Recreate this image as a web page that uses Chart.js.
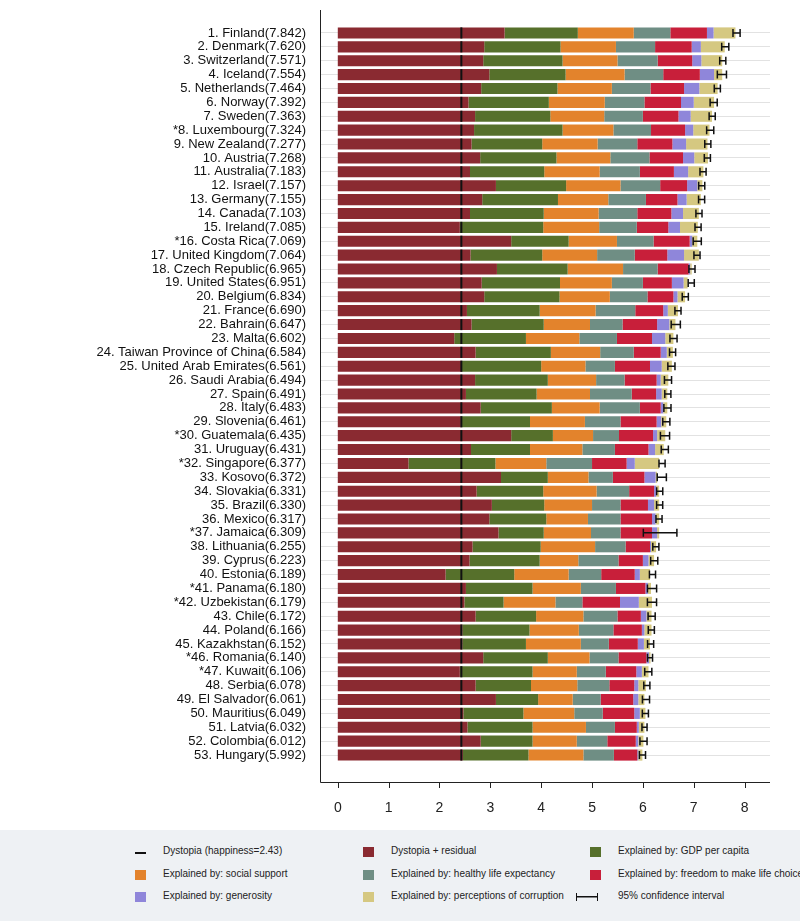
<!doctype html>
<html>
<head>
	<title>World happiness ranking</title>
	<script src="https://cdn.jsdelivr.net/npm/chart.js@4"></script>
	<style>
		body { margin: 0; background: #fff; font-family: "Liberation Sans", Arial, sans-serif; }
		#holder { position: absolute; left: 0; top: 0; width: 800px; height: 830px; }
		#legend { position: absolute; left: 0; top: 830px; width: 800px; height: 91px; background: #eef1f4; overflow: hidden; }
		.item { position: absolute; font-size: 10px; color: #222; white-space: nowrap; }
		.sw { position: absolute; width: 11px; height: 10px; }
	</style>
</head>
<body>
	<div id="holder"><canvas id="chart-area" width="800" height="830"></canvas></div>
	<div id="legend"></div>
	<script>
		var countries = ['Finland', 'Denmark', 'Switzerland', 'Iceland', 'Netherlands', 'Norway', 'Sweden', '*Luxembourg', 'New Zealand', 'Austria',
			'Australia', 'Israel', 'Germany', 'Canada', 'Ireland', '*Costa Rica', 'United Kingdom', 'Czech Republic', 'United States', 'Belgium',
			'France', 'Bahrain', 'Malta', 'Taiwan Province of China', 'United Arab Emirates', 'Saudi Arabia', 'Spain', 'Italy', 'Slovenia', '*Guatemala',
			'Uruguay', '*Singapore', 'Kosovo', 'Slovakia', 'Brazil', 'Mexico', '*Jamaica', 'Lithuania', 'Cyprus', 'Estonia',
			'*Panama', '*Uzbekistan', 'Chile', 'Poland', 'Kazakhstan', '*Romania', '*Kuwait', 'Serbia', 'El Salvador', 'Mauritius',
			'Latvia', 'Colombia', 'Hungary'];
		var scores = [7.842, 7.620, 7.571, 7.554, 7.464, 7.392, 7.363, 7.324, 7.277, 7.268,
			7.183, 7.157, 7.155, 7.103, 7.085, 7.069, 7.064, 6.965, 6.951, 6.834,
			6.690, 6.647, 6.602, 6.584, 6.561, 6.494, 6.491, 6.483, 6.461, 6.435,
			6.431, 6.377, 6.372, 6.331, 6.330, 6.317, 6.309, 6.255, 6.223, 6.189,
			6.180, 6.179, 6.172, 6.166, 6.152, 6.140, 6.106, 6.078, 6.061, 6.049,
			6.032, 6.012, 5.992];
		var residual = [3.28, 2.88, 2.86, 2.98, 2.82, 2.57, 2.70, 2.68, 2.63, 2.80,
			2.60, 3.11, 2.84, 2.60, 2.40, 3.41, 2.61, 3.13, 2.83, 2.88,
			2.54, 2.63, 2.29, 2.71, 2.44, 2.70, 2.52, 2.81, 2.42, 3.41,
			2.62, 1.39, 3.21, 2.73, 3.03, 2.98, 3.16, 2.65, 2.59, 2.12,
			2.52, 2.49, 2.71, 2.45, 2.45, 2.86, 2.40, 2.71, 3.11, 2.47,
			2.55, 2.81, 2.46];
		var gdp = [1.44, 1.50, 1.56, 1.50, 1.50, 1.58, 1.48, 1.74, 1.39, 1.50,
			1.46, 1.38, 1.49, 1.45, 1.64, 1.13, 1.41, 1.39, 1.54, 1.48,
			1.43, 1.42, 1.41, 1.48, 1.56, 1.43, 1.39, 1.40, 1.36, 0.82,
			1.16, 1.71, 0.92, 1.31, 1.03, 1.12, 0.89, 1.34, 1.38, 1.35,
			1.31, 0.77, 1.19, 1.32, 1.25, 1.27, 1.43, 1.09, 0.83, 1.18,
			1.28, 1.02, 1.29];
		var social = [1.10, 1.09, 1.08, 1.16, 1.07, 1.10, 1.06, 1.00, 1.09, 1.06,
			1.09, 1.07, 0.99, 1.08, 1.10, 0.95, 1.08, 1.09, 1.02, 0.99,
			1.10, 0.91, 1.05, 0.97, 0.87, 0.95, 1.05, 0.94, 1.08, 0.79,
			1.03, 1.00, 0.80, 1.05, 0.94, 0.82, 0.93, 1.07, 0.76, 1.07,
			0.95, 1.02, 0.93, 0.97, 1.08, 0.82, 0.87, 0.91, 0.68, 1.00,
			1.05, 0.87, 1.08];
		var health = [0.72, 0.77, 0.79, 0.76, 0.76, 0.78, 0.76, 0.74, 0.78, 0.77,
			0.79, 0.78, 0.74, 0.76, 0.74, 0.72, 0.74, 0.68, 0.61, 0.74,
			0.78, 0.64, 0.74, 0.66, 0.58, 0.56, 0.82, 0.79, 0.70, 0.51,
			0.64, 0.90, 0.48, 0.64, 0.56, 0.64, 0.58, 0.60, 0.79, 0.64,
			0.69, 0.53, 0.67, 0.68, 0.55, 0.57, 0.57, 0.63, 0.55, 0.56,
			0.57, 0.60, 0.60];
		var freedom = [0.72, 0.72, 0.68, 0.72, 0.66, 0.72, 0.70, 0.67, 0.69, 0.66,
			0.67, 0.53, 0.62, 0.67, 0.62, 0.71, 0.64, 0.61, 0.57, 0.51,
			0.55, 0.68, 0.69, 0.53, 0.69, 0.63, 0.48, 0.41, 0.71, 0.67,
			0.66, 0.68, 0.62, 0.49, 0.54, 0.62, 0.62, 0.48, 0.48, 0.66,
			0.58, 0.74, 0.46, 0.56, 0.57, 0.55, 0.60, 0.49, 0.64, 0.62,
			0.43, 0.56, 0.46];
		var generosity = [0.13, 0.18, 0.18, 0.28, 0.30, 0.25, 0.24, 0.16, 0.27, 0.22,
			0.28, 0.20, 0.18, 0.23, 0.23, 0.05, 0.33, 0.03, 0.23, 0.08,
			0.09, 0.24, 0.26, 0.12, 0.23, 0.08, 0.11, 0.05, 0.09, 0.08,
			0.13, 0.16, 0.22, 0.04, 0.12, 0.07, 0.10, 0.02, 0.11, 0.10,
			0.05, 0.37, 0.11, 0.05, 0.12, 0.05, 0.11, 0.08, 0.10, 0.11,
			0.04, 0.05, 0.02];
		var corruption = [0.43, 0.47, 0.41, 0.16, 0.36, 0.40, 0.42, 0.32, 0.42, 0.27,
			0.30, 0.10, 0.28, 0.31, 0.35, 0.10, 0.29, 0.03, 0.08, 0.15,
			0.20, 0.12, 0.16, 0.12, 0.20, 0.15, 0.11, 0.08, 0.10, 0.16,
			0.17, 0.48, 0.03, 0.06, 0.10, 0.07, 0.04, 0.10, 0.11, 0.20,
			0.06, 0.26, 0.10, 0.14, 0.12, 0.03, 0.13, 0.15, 0.12, 0.11,
			0.11, 0.10, 0.08];
		// confidence interval: distance below and above the score
		var ciBelow = [0.07, 0.07, 0.06, 0.09, 0.06, 0.07, 0.06, 0.07, 0.06, 0.06,
			0.06, 0.06, 0.06, 0.06, 0.06, 0.08, 0.06, 0.06, 0.06, 0.06,
			0.06, 0.09, 0.07, 0.06, 0.07, 0.07, 0.06, 0.07, 0.07, 0.09,
			0.07, 0.06, 0.09, 0.06, 0.06, 0.06, 0.30, 0.06, 0.07, 0.06,
			0.09, 0.09, 0.07, 0.06, 0.06, 0.05, 0.07, 0.06, 0.07, 0.06,
			0.05, 0.07, 0.06];
		var ciAbove = [0.07, 0.07, 0.06, 0.09, 0.06, 0.07, 0.06, 0.07, 0.06, 0.06,
			0.06, 0.06, 0.06, 0.06, 0.06, 0.08, 0.06, 0.06, 0.06, 0.06,
			0.06, 0.09, 0.07, 0.06, 0.07, 0.07, 0.06, 0.07, 0.07, 0.09,
			0.07, 0.06, 0.09, 0.06, 0.06, 0.06, 0.36, 0.06, 0.07, 0.06,
			0.09, 0.09, 0.07, 0.06, 0.06, 0.05, 0.07, 0.06, 0.07, 0.06,
			0.05, 0.07, 0.06];
		var dystopia = 2.43;
		var xTicks = [0, 1, 2, 3, 4, 5, 6, 7, 8];

		var labels = countries.map(function(c, i) {
			return (c.charAt(0) === '*' ? '*' + (i + 1) + '. ' + c.slice(1) : (i + 1) + '. ' + c) + '(' + scores[i].toFixed(3) + ')';
		});

		var series = [
			{ label: 'Dystopia + residual', data: residual, color: '#8a2a31' },
			{ label: 'Explained by: GDP per capita', data: gdp, color: '#56702b' },
			{ label: 'Explained by: social support', data: social, color: '#e3832c' },
			{ label: 'Explained by: healthy life expectancy', data: health, color: '#6f8e84' },
			{ label: 'Explained by: freedom to make life choices', data: freedom, color: '#c81f3a' },
			{ label: 'Explained by: generosity', data: generosity, color: '#8f86da' },
			{ label: 'Explained by: perceptions of corruption', data: corruption, color: '#d5c881' }
		];

		var extras = {
			id: 'extras',
			afterDatasetsDraw: function(chart) {
				var c = chart.ctx, x = chart.scales.x, a = chart.chartArea;
				var meta = chart.getDatasetMeta(0);
				c.save();
				// dystopia marks
				var dx = x.getPixelForValue(dystopia);
				c.fillStyle = '#111';
				meta.data.forEach(function(bar) {
					c.fillRect(dx - 1, bar.y - bar.height / 2, 2, bar.height);
				});
				// confidence intervals
				c.strokeStyle = '#111';
				c.lineWidth = 1.5;
				meta.data.forEach(function(bar, i) {
					var lo = x.getPixelForValue(scores[i] - ciBelow[i]);
					var hi = x.getPixelForValue(scores[i] + ciAbove[i]);
					c.beginPath();
					c.moveTo(lo, bar.y); c.lineTo(hi, bar.y);
					c.moveTo(lo, bar.y - 4); c.lineTo(lo, bar.y + 4);
					c.moveTo(hi, bar.y - 4); c.lineTo(hi, bar.y + 4);
					c.stroke();
				});
				// axis frame
				c.strokeStyle = '#222';
				c.lineWidth = 1;
				c.beginPath();
				c.moveTo(a.left + 0.5, 10); c.lineTo(a.left + 0.5, 782.5);
				c.lineTo(a.right, 782.5);
				xTicks.forEach(function(t) {
					var px = Math.round(x.getPixelForValue(t)) + 0.5;
					c.moveTo(px, 782); c.lineTo(px, 788);
				});
				c.stroke();
				c.restore();
			}
		};

		var config = {
			type: 'bar',
			data: {
				labels: labels,
				datasets: series.map(function(s) {
					return { label: s.label, data: s.data, backgroundColor: s.color, barPercentage: 0.8, categoryPercentage: 1 };
				})
			},
			options: {
				indexAxis: 'y',
				responsive: false,
				animation: false,
				layout: { padding: { left: 4, top: 26, right: 30, bottom: 18 } },
				plugins: { legend: { display: false }, tooltip: { enabled: false } },
				scales: {
					x: {
						stacked: true, min: -0.35, max: 8.5,
						afterBuildTicks: function(s) { s.ticks = xTicks.map(function(v) { return { value: v }; }); },
						afterFit: function(s) { s.height = 50; },
						grid: { display: false },
						border: { display: false },
						ticks: { padding: 30, color: '#222', font: { family: 'Liberation Sans', size: 14 } }
					},
					y: {
						stacked: true,
						afterFit: function(s) { s.width = 316; },
						grid: { color: '#e2e2e2', offset: false, drawTicks: false },
						border: { display: false },
						ticks: { padding: 14, color: '#111', autoSkip: false, font: { family: 'Liberation Sans', size: 13 } }
					}
				}
			},
			plugins: [extras]
		};

		var ctx = document.getElementById('chart-area').getContext('2d');
		window.myBar = new Chart(ctx, config);

		// legend, three columns
		var legendItems = [
			{ text: 'Dystopia (happiness=2.43)', kind: 'dash' },
			{ text: 'Dystopia + residual', color: series[0].color },
			{ text: 'Explained by: GDP per capita', color: series[1].color },
			{ text: 'Explained by: social support', color: series[2].color },
			{ text: 'Explained by: healthy life expectancy', color: series[3].color },
			{ text: 'Explained by: freedom to make life choices', color: series[4].color },
			{ text: 'Explained by: generosity', color: series[5].color },
			{ text: 'Explained by: perceptions of corruption', color: series[6].color },
			{ text: '95% confidence interval', kind: 'ci' }
		];
		var colX = [135, 363, 590], rowY = [22, 45, 67];
		var legend = document.getElementById('legend');
		legendItems.forEach(function(it, i) {
			var cx = colX[i % 3], cy = rowY[Math.floor(i / 3)];
			var sw = document.createElement('div');
			sw.className = 'sw';
			sw.style.left = cx + 'px';
			sw.style.top = (cy - 5) + 'px';
			if (it.kind === 'dash') {
				sw.style.height = '2px'; sw.style.top = cy + 'px'; sw.style.background = '#111';
			} else if (it.kind === 'ci') {
				sw.style.left = (cx - 14) + 'px'; sw.style.width = '20px'; sw.style.height = '8px';
				sw.style.top = (cy - 4) + 'px';
				sw.style.background = 'linear-gradient(#111,#111) center / 100% 1.5px no-repeat';
				sw.style.borderLeft = '1.5px solid #111'; sw.style.borderRight = '1.5px solid #111';
			} else {
				sw.style.background = it.color;
			}
			legend.appendChild(sw);
			var tx = document.createElement('div');
			tx.className = 'item';
			tx.style.left = (cx + 28) + 'px';
			tx.style.top = (cy - 7) + 'px';
			tx.textContent = it.text;
			legend.appendChild(tx);
		});
	</script>
</body>
</html>
